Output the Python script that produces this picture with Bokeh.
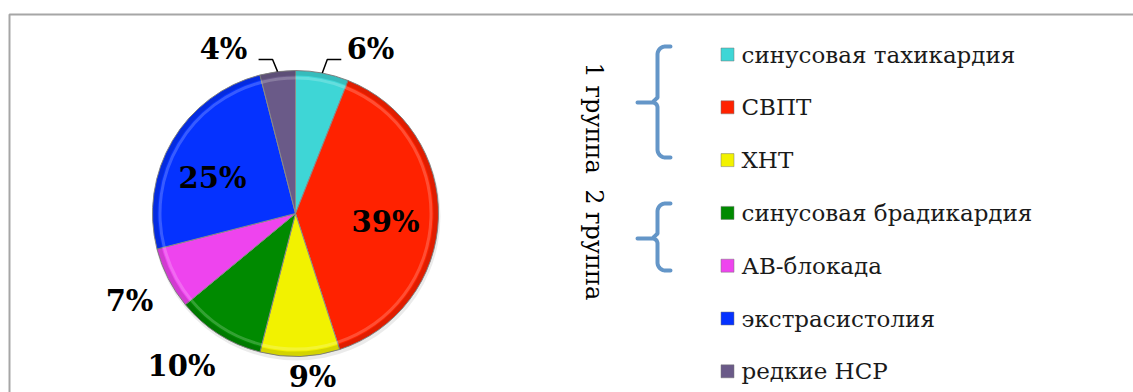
import numpy as np
from bokeh.plotting import figure
from bokeh.models import Range1d, ColumnDataSource
from bokeh.core.properties import value
from bokeh.embed import file_html
from bokeh.resources import INLINE

# ---- data ----
categories = ["синусовая тахикардия", "СВПТ", "ХНТ", "синусовая брадикардия",
              "АВ-блокада", "экстрасистолия", "редкие НСР"]
shares = [6, 39, 9, 10, 7, 25, 4]
labels = ["6%", "39%", "9%", "10%", "7%", "25%", "4%"]
colors = ["#3ed6d6", "#ff2200", "#f2f200", "#008a00", "#ee44ee", "#0532ff", "#6a5a88"]
group_title = "1 группа\u00a0\u00a02 группа"

# ---- layout ----
W, H = 1133, 392
def Y(y):
    return H - y

cx, cy, R = 295, Y(213), 143
label_pos = [(370, 48), (385, 221), (312, 376), (181, 365), (129, 300), (212, 177), (223, 48)]

p = figure(width=W, height=H, output_backend="svg", toolbar_location=None,
           x_range=Range1d(0, W), y_range=Range1d(0, H), min_border=0)
p.axis.visible = False
p.grid.visible = False
p.outline_line_color = None
p.background_fill_color = "white"

# frame
p.quad(left=9, right=W + 10, bottom=-10, top=Y(14), fill_color=None,
       line_color="#a6a6a6", line_width=2)

# pie
vals = np.array(shares, dtype=float)
frac = vals / vals.sum()
cum = np.concatenate([[0], np.cumsum(frac)])
start = np.pi / 2 - 2 * np.pi * cum[:-1]
end = np.pi / 2 - 2 * np.pi * cum[1:]

# soft shadow
p.circle(x=cx + 1, y=cy - 3, radius=R + 1, fill_color="#000000", fill_alpha=0.08, line_color=None)

src = ColumnDataSource(dict(start=start, end=end, color=colors))
p.wedge(x=cx, y=cy, radius=R, start_angle="start", end_angle="end", direction="clock",
        fill_color="color", line_color="#8a8a8a", line_width=1, source=src)
# bevel effect: darker rim and light highlight
p.annular_wedge(x=cx, y=cy, inner_radius=R - 5, outer_radius=R, start_angle="start", end_angle="end",
                direction="clock", fill_color="#000000", fill_alpha=0.12, line_color=None, source=src)
p.annular_wedge(x=cx, y=cy, inner_radius=R - 9, outer_radius=R - 6, start_angle="start", end_angle="end",
                direction="clock", fill_color="#ffffff", fill_alpha=0.2, line_color=None, source=src)

# percent labels
lx = [q[0] for q in label_pos]
ly = [Y(q[1]) for q in label_pos]
p.text(x=lx, y=ly, text=labels, text_font=value("DejaVu Serif"), text_font_style="bold",
       text_font_size="29px", text_align="center", text_baseline="middle", text_color="black")

# leader lines for small outside labels (6% and 4%)
mid = np.pi / 2 - 2 * np.pi * (cum[:-1] + frac / 2)
for i, sgn in [(0, 1), (6, -1)]:
    x0 = cx + R * np.cos(mid[i])
    y0 = cy + R * np.sin(mid[i])
    p.line(x=[x0, x0 + 5 * sgn, x0 + 19 * sgn], y=[y0, Y(59), Y(59)],
           line_color="black", line_width=1.5)

# legend
leg_y = [54 + 52.8 * k for k in range(len(categories))]
p.scatter(x=[727] * len(categories), y=[Y(v) for v in leg_y], marker="square", size=13,
          fill_color=colors, line_color="#777777", line_width=0.5)
p.text(x=[741] * len(categories), y=[Y(v) for v in leg_y], text=categories,
       text_font=value("DejaVu Serif"), text_font_size="23px", text_align="left",
       text_baseline="middle", text_color="#1a1a1a")

# group title (rotated)
p.text(x=[593], y=[Y(181)], text=[group_title], angle=-np.pi / 2,
       text_font=value("DejaVu Serif"), text_font_size="24px", text_align="center",
       text_baseline="middle", text_color="black")

# braces
def brace(xr, xl, ytop, ybot, ymid, r=8):
    xm = 657
    t = np.linspace(0, np.pi / 2, 12)
    xs, ys = [], []
    xs += list(xm + r - r * np.sin(t)); ys += list(ytop + r - r * np.cos(t))
    xs[0] = xr
    s = 5
    xs += [xm]; ys += [ymid - s]
    xs += list(xm - s * np.sin(t)); ys += list(ymid - s + s * np.sin(t))
    xs += [xl]; ys += [ymid]
    xs += [xm - s]; ys += [ymid]
    xs += list(xm - s + s * np.sin(t)); ys += list(ymid + s - s * np.cos(t))
    xs += [xm]; ys += [ybot - r]
    xs += list(xm + r - r * np.cos(t)); ys += list(ybot - r + r * np.sin(t))
    xs += [xr]; ys += [ybot]
    return xs, [Y(v) for v in ys]

for (yt, yb, ym) in [(46, 157, 102), (203, 270, 238)]:
    bx, by = brace(670, 637, yt, yb, ym)
    p.line(x=bx, y=by, line_color="#6496c8", line_width=4, line_join="round", line_cap="round")

open("out.html", "w").write(file_html(p, INLINE))
